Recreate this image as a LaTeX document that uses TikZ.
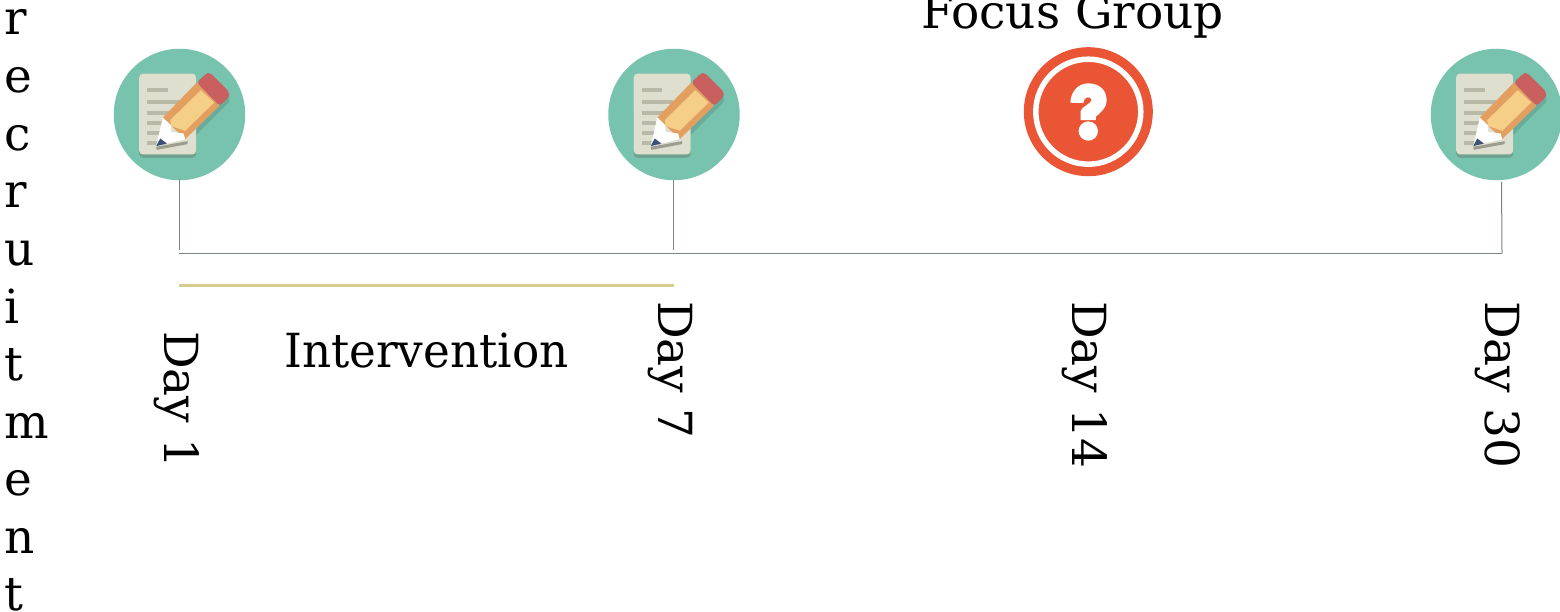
\documentclass[tikz,border=0pt]{standalone}
\usepackage{fontspec}
\setmainfont{DejaVu Serif}
\definecolor{teal}{HTML}{78C3AE}
\definecolor{tealdk}{HTML}{68AC99}
\definecolor{paper}{HTML}{DFDFCF}
\definecolor{paperdk}{HTML}{B9B9A8}
\definecolor{papersh}{HTML}{6FA28F}
\definecolor{eraser}{HTML}{C95F5F}
\definecolor{pencilor}{HTML}{E39F5F}
\definecolor{pencilye}{HTML}{F5CE87}
\definecolor{navy}{HTML}{3E4F78}
\definecolor{qred}{HTML}{E95535}
\definecolor{axisgrey}{HTML}{788484}
\definecolor{goldline}{HTML}{D4CC90}
\tikzset{
  lbl/.style={font=\fontsize{47}{47}\selectfont, inner sep=0pt, text=black},
  dayl/.style={lbl, rotate=-90, anchor=base west},
  vert/.style={lbl, anchor=base west},
  axisl/.style={draw=axisgrey, line width=1pt},
  goldl/.style={draw=goldline, line width=2.8pt},
  iconball/.style={circle, fill=teal, minimum size=131.5pt, inner sep=0pt},
  qball/.style={circle, fill=qred, minimum size=129pt, inner sep=0pt}
}
\newcommand{\noteicon}[3]{%
  \node[iconball] (#1) at (#2,#3) {};
  \begin{scope}[shift={(#2,#3)}]
  \begin{scope}[x=0.3333pt,y=-0.3333pt,shift={(-238,-223)}]
    % pencil shadow on the ball
    \fill[tealdk] (387,163) -- (387,185) -- (270,303) -- (255,297) -- cycle;
    % paper
    \fill[papersh, rounded corners=4pt] (117,200) rectangle (288,353);
    \fill[paper, rounded corners=4pt] (117,100) rectangle (288,343);
    \foreach \yy/\xe in {150/202,186/235,218/235,248/215,279/195,310/195}
      \fill[paperdk] (141,\yy-6) rectangle (\xe,\yy+6);
    % tip shadow
    \fill[paperdk!85!black] (168,320) -- (262,303) -- (262,312) -- (170,329) -- cycle;
    % pencil
    \fill[pencilor] (290,127) -- (358,197) -- (255,297) -- (188,232) -- cycle;
    \fill[pencilye] (302,150) -- (342,187) -- (255,272) -- (235,265) -- (213,258) -- (210,240) -- cycle;
    \fill[eraser, rounded corners=3pt] (290,127) -- (318,100) -- (330,98) -- (387,155) -- (387,170) -- (358,197) -- cycle;
    \fill[white] (188,232) -- (212,255) -- (213,275) -- (250,280) -- (255,297) -- (168,318) -- cycle;
    \fill[navy] (168,318) -- (180,295) -- (200,310) -- cycle;
  \end{scope}
  \end{scope}
}
\begin{document}
\begin{tikzpicture}[x=1pt,y=-1pt]
\useasboundingbox (0,0) rectangle (1560,612);
\clip (0,0) rectangle (1560,612);

% vertical word
\node[vert] (v1) at (4,35) {r};
\node[vert] (v2) at (4,93) {e};
\node[vert] (v3) at (4,150.5) {c};
\node[vert] (v4) at (4,208) {r};
\node[vert] (v5) at (4,265.5) {u};
\node[vert] (v6) at (4,323) {i};
\node[vert] (v7) at (4,380.5) {t};
\node[vert] (v8) at (4,438) {m};
\node[vert] (v9) at (4,495.5) {e};
\node[vert] (v10) at (4,553) {n};
\node[vert] (v11) at (4,610.5) {t};

% icons
\noteicon{n1}{179.5}{114.5}
\noteicon{n2}{674}{114.5}
\noteicon{n4}{1496.5}{114.5}

\node[qball] (n3) at (1088.3,111.7) {};
\begin{scope}[shift={(1088.3,111.7)}]
\begin{scope}[x=0.3333pt,y=-0.3333pt,shift={(-235,-230)}]
  \draw[white, line width=5.5pt] (235,230) circle (157.5);
  \fill[white] (181,203) .. controls (183,165) and (208,145) .. (235,145)
     .. controls (268,145) and (290,165) .. (290,195)
     .. controls (290,222) and (270,232) .. (258,245)
     -- (258,255) -- (212,255) -- (212,228)
     .. controls (214,215) and (245,205) .. (245,195)
     .. controls (245,188) and (238,186) .. (232,187)
     .. controls (225,188) and (221,195) .. (220,204) -- cycle;
  \fill[white] (235,288) circle (29);
\end{scope}
\end{scope}

% connectors
\coordinate (t1) at (179.5,179);
\coordinate (e1) at (179.5,250);
\coordinate (t2) at (673.5,180);
\coordinate (e2) at (673.5,250);
\coordinate (t4) at (1501.5,182);
\coordinate (axl) at (179,253.5);
\coordinate (axr) at (1502,253.5);
\coordinate (g1) at (179,285.7);
\coordinate (g2) at (674,285.7);
\draw[axisl] (t1) -- (e1);
\draw[axisl] (t2) -- (e2);
\draw[axisl] (t4) -- (axr);
\draw[axisl] (axl) -- (axr);
\draw[goldl] (g1) -- (g2);

% labels
\node[lbl, anchor=base west] (fg) at (921,29) {Focus Group};
\node[lbl, anchor=base west, xscale=0.963] (iv) at (284,367) {Intervention};
\node[dayl] (d1) at (164,331) {Day 1};
\node[dayl] (d7) at (658,301) {Day 7};
\node[dayl] (d14) at (1072,301) {Day 14};
\node[dayl] (d30) at (1485,301) {Day 30};
\end{tikzpicture}
\end{document}
